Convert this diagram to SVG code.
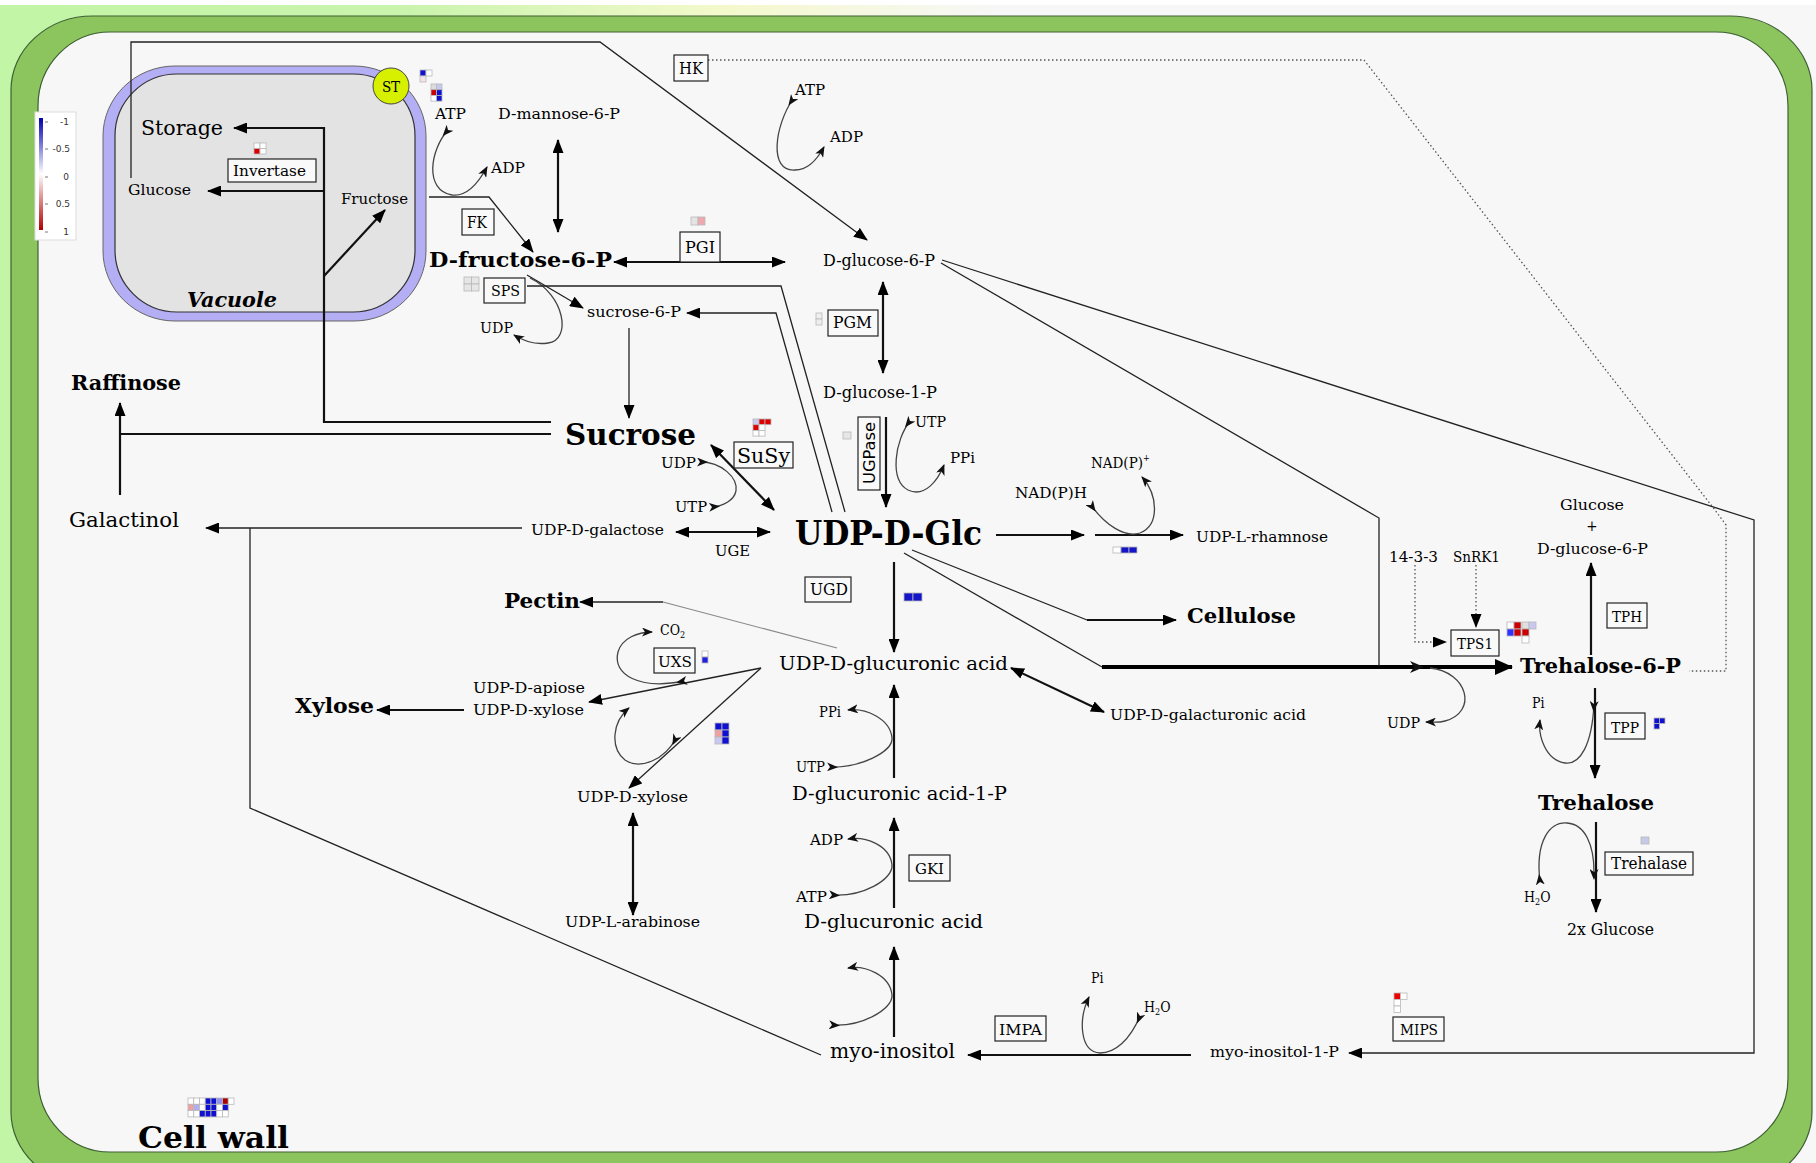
<svg xmlns="http://www.w3.org/2000/svg" width="1816" height="1163" viewBox="0 0 1816 1163">
<defs>
<style>
.s{font-family:"DejaVu Serif Condensed","DejaVu Serif",serif;fill:#000}
.b{font-weight:bold}
.ln{fill:none;stroke:#222;stroke-width:1.3}
.lw{fill:none;stroke:#111;stroke-width:2.2}
.cv{fill:none;stroke:#444;stroke-width:1.3}
.dt{fill:none;stroke:#555;stroke-width:1.3;stroke-dasharray:1.5 2.5}
.bx{fill:#f9f9f9;stroke:#222;stroke-width:1.2}
.hm rect{stroke:#b8b8b8;stroke-width:0.8}
.lg{font-family:"DejaVu Sans",sans-serif;font-size:9px;fill:#333;text-anchor:end}
</style>
<linearGradient id="bg" x1="0" x2="1" y1="0" y2="0">
<stop offset="0" stop-color="#c2f5a6"/><stop offset="0.22" stop-color="#c9f4ac"/><stop offset="0.4" stop-color="#f4f9cc"/><stop offset="0.55" stop-color="#f7f7f7"/>
</linearGradient>
<linearGradient id="lgd" x1="0" x2="0" y1="0" y2="1">
<stop offset="0" stop-color="#0000b0"/><stop offset="0.5" stop-color="#ffffff"/><stop offset="1" stop-color="#b00000"/>
</linearGradient>
<marker id="a" viewBox="0 0 14 11" refX="13" refY="5.5" markerWidth="14" markerHeight="11" markerUnits="userSpaceOnUse" orient="auto-start-reverse"><path d="M0,0 L14,5.5 L0,11 z" fill="#000"/></marker>
<marker id="ab" viewBox="0 0 18 16" refX="17" refY="8" markerWidth="18" markerHeight="16" markerUnits="userSpaceOnUse" orient="auto"><path d="M0,0 L18,8 L0,16 z" fill="#000"/></marker>
<marker id="ac" viewBox="0 0 11 9" refX="10" refY="4.5" markerWidth="11" markerHeight="9" markerUnits="userSpaceOnUse" orient="auto"><path d="M0,0 L11,4.5 L0,9 L3,4.5 z" fill="#111"/></marker>
<marker id="ch" viewBox="0 0 11 9" refX="3" refY="4.5" markerWidth="11" markerHeight="9" markerUnits="userSpaceOnUse" orient="auto"><path d="M0,0 L11,4.5 L0,9 L3,4.5 z" fill="#111"/></marker>
</defs>

<rect x="0" y="0" width="1816" height="1163" fill="#ffffff"/>
<rect x="0" y="5" width="1816" height="1158" fill="url(#bg)"/>

<g id="cellwall">
<rect x="11" y="16" width="1801" height="1170" rx="82" ry="74" fill="#8cc55e" stroke="#3f5f35" stroke-width="1.2"/>
<rect x="38" y="32" width="1750" height="1120" rx="72" ry="74" fill="#f7f7f7" stroke="#3f5f35" stroke-width="1.2"/>
</g>

<g id="legend">
<rect x="35" y="112" width="41" height="128" fill="#fff" stroke="#ddd" stroke-width="1"/>
<rect x="39" y="118" width="4" height="112" fill="url(#lgd)"/>
<path d="M45,122 h3 M45,149 h3 M45,177 h3 M45,204 h3 M45,232 h3" stroke="#555" stroke-width="0.8"/>
<text class="lg" x="69" y="125">-1</text>
<text class="lg" x="70" y="152">-0.5</text>
<text class="lg" x="69" y="180">0</text>
<text class="lg" x="70" y="207">0.5</text>
<text class="lg" x="69" y="235">1</text>
</g>

<g id="vacuole">
<rect x="103" y="66" width="323" height="255" rx="72" ry="70" fill="#b4aef5" stroke="#666" stroke-width="1"/>
<rect x="115" y="74" width="300" height="238" rx="62" ry="62" fill="#e3e3e3" stroke="#333" stroke-width="1.2"/>
<text class="s b" x="187" y="307" font-size="20" font-style="italic" textLength="90" lengthAdjust="spacingAndGlyphs">Vacuole</text>
</g>
<g id="n-st">
<circle cx="391" cy="86" r="18" fill="#d6f000" stroke="#444" stroke-width="1"/>
<text class="s" x="391" y="92" font-size="15" text-anchor="middle">ST</text>
</g>

<g id="connectors">
<path class="ln" d="M131,178 V42 H600 L867,240" marker-end="url(#a)"/>
<path class="lw" d="M551,422 H324 V128 H234" marker-end="url(#a)"/>
<path class="lw" d="M324,191 H208" marker-end="url(#a)"/>
<path class="lw" d="M324,276 L385,210" marker-end="url(#a)"/>
<path class="lw" d="M551,434 H120"/>
<path class="lw" d="M120,495 V403" marker-end="url(#a)"/>
<path class="ln" d="M429,197 H489 L533,252" marker-end="url(#a)"/>
<path class="cv" d="M448,130 C430,150 424,190 452,195 C468,197 480,180 487,167" marker-start="url(#ch)" marker-end="url(#ac)"/>
<path class="lw" d="M558,140 V232" marker-start="url(#a)" marker-end="url(#a)"/>
<path class="lw" d="M614,262 H785" marker-start="url(#a)" marker-end="url(#a)"/>
<path class="cv" d="M793,99 C775,125 768,172 795,170 C808,170 818,158 824,147" marker-start="url(#ch)" marker-end="url(#ac)"/>
<path class="lw" d="M883,282 V373" marker-start="url(#a)" marker-end="url(#a)"/>
<path class="ln" d="M527,275 L583,308" marker-end="url(#a)"/>
<path class="cv" d="M530,278 C565,295 572,340 548,343 C535,345 522,340 514,335" marker-end="url(#ac)"/>
<path class="ln" d="M527,286 H781 L845,512"/>
<path class="ln" d="M832,512 L776,313 H687" marker-end="url(#a)"/>
<path class="ln" d="M629,328 V418" marker-end="url(#a)"/>
<path class="lw" d="M711,445 L774,510" marker-start="url(#a)" marker-end="url(#a)"/>
<path class="cv" d="M700,462 C722,462 738,478 736,491" marker-start="url(#ch)"/>
<path class="cv" d="M712,507 C724,506 734,500 736,491" marker-start="url(#ch)"/>
<path class="lw" d="M676,532 H770" marker-start="url(#a)" marker-end="url(#a)"/>
<path class="ln" d="M522,528 H206" marker-end="url(#a)"/>
<path class="ln" d="M250,528 V808 L821,1055"/>
<path class="lw" d="M886,417 V507" marker-end="url(#a)"/>
<path class="cv" d="M910,421 C895,440 889,480 908,490 C925,498 938,480 944,465" marker-start="url(#ch)" marker-end="url(#ac)"/>
<path class="lw" d="M996,535 H1084" marker-end="url(#a)"/>
<path class="lw" d="M1095,535 H1183" marker-end="url(#a)"/>
<path class="cv" d="M1091,505 C1105,525 1125,538 1140,533 C1160,525 1158,495 1142,477" marker-start="url(#ch)" marker-end="url(#ac)"/>
<path class="ln" d="M912,550 L1087,620"/>
<path class="lw" d="M1087,620 H1176" marker-end="url(#a)"/>
<path class="ln" d="M904,553 L1102,667"/>
<path fill="none" stroke="#000" stroke-width="4" d="M1102,667 H1512" marker-end="url(#ab)"/>
<path class="ln" d="M941,263 L1379,518 V666"/>
<path class="ln" d="M942,260 L1754,520 V1053 H1349" marker-end="url(#a)"/>
<path class="cv" d="M1430,668 C1468,672 1478,712 1445,721 C1438,723 1432,722 1426,722" marker-end="url(#ac)"/>
<path d="M1410,661 L1424,667 L1410,673 L1414,667 z" fill="#111"/>
<path class="dt" d="M1415,565 V642 H1446" marker-end="url(#a)"/>
<path class="dt" d="M1476,565 V627" marker-end="url(#a)"/>
<path class="dt" stroke="#888" d="M708,60 H1364 L1715,510 L1726,525 V671 H1689"/>
<path class="lw" d="M1591,655 V563" marker-end="url(#a)"/>
<path class="lw" d="M1595,688 V778" marker-end="url(#a)"/>
<path class="cv" d="M1594,704 C1592,745 1580,765 1565,763 C1545,760 1538,735 1540,720" marker-start="url(#ch)" marker-end="url(#ac)"/>
<path class="lw" d="M1596,822 V912" marker-end="url(#a)"/>
<path class="cv" d="M1540,882 C1535,840 1550,822 1567,823 C1585,824 1594,845 1594,872" marker-start="url(#ch)" marker-end="url(#ch)"/>
<path class="lw" d="M1191,1055 H968" marker-end="url(#a)"/>
<path class="cv" d="M1140,1016 C1130,1040 1115,1053 1100,1053 C1080,1052 1078,1020 1089,997" marker-start="url(#ch)" marker-end="url(#ac)"/>
<path class="lw" d="M894,1037 V947" marker-end="url(#a)"/>
<path class="cv" d="M832,1025 C860,1027 893,1010 892,995 C890,975 865,965 848,968" marker-start="url(#ch)" marker-end="url(#ac)"/>
<path class="lw" d="M894,908 V818" marker-end="url(#a)"/>
<path class="cv" d="M832,895 C862,897 893,880 892,865 C890,845 865,836 848,839" marker-start="url(#ch)" marker-end="url(#ac)"/>
<path class="lw" d="M894,778 V685" marker-end="url(#a)"/>
<path class="cv" d="M830,767 C860,768 893,752 892,738 C890,718 865,708 848,710" marker-start="url(#ch)" marker-end="url(#ac)"/>
<path class="lw" d="M894,562 V652" marker-end="url(#a)"/>
<path class="lw" d="M1011,668 L1104,712" marker-start="url(#a)" marker-end="url(#a)"/>
<path fill="none" stroke="#888" stroke-width="1.1" d="M837,648 L663,602"/>
<path class="ln" stroke-width="1.6" d="M663,602 H580" marker-end="url(#a)"/>
<path class="ln" stroke-width="1.5" d="M761,668 L589,702" marker-end="url(#a)"/>
<path class="ln" stroke-width="1.5" d="M761,668 L629,788" marker-end="url(#a)"/>
<path class="cv" d="M684,681 C640,690 612,675 618,652 C622,638 638,632 652,632" marker-start="url(#ch)" marker-end="url(#ac)"/>
<path class="cv" d="M676,738 C665,760 640,770 625,760 C610,748 612,722 629,708" marker-start="url(#ch)" marker-end="url(#ac)"/>
<path class="lw" d="M464,710 H377" marker-end="url(#a)"/>
<path class="lw" d="M633,813 V915" marker-start="url(#a)" marker-end="url(#a)"/>
</g>

<g id="n-storage"><text class="s" x="141" y="135" font-size="21" textLength="82" lengthAdjust="spacingAndGlyphs">Storage</text></g>
<g id="n-glucose-vac"><text class="s" x="128" y="195" font-size="15" textLength="63" lengthAdjust="spacingAndGlyphs">Glucose</text></g>
<g id="e-invertase">
<rect class="bx" x="228" y="159" width="88" height="23"/>
<text class="s" x="233" y="176" font-size="15" textLength="73" lengthAdjust="spacingAndGlyphs">Invertase</text>
</g>
<g id="n-fructose"><text class="s" x="341" y="204" font-size="15" textLength="67" lengthAdjust="spacingAndGlyphs">Fructose</text></g>
<g id="n-atp1"><text class="s" x="435" y="119" font-size="15" textLength="31" lengthAdjust="spacingAndGlyphs">ATP</text></g>
<g id="n-mannose"><text class="s" x="498" y="119" font-size="15" textLength="122" lengthAdjust="spacingAndGlyphs">D-mannose-6-P</text></g>
<g id="n-adp1"><text class="s" x="491" y="173" font-size="15" textLength="34" lengthAdjust="spacingAndGlyphs">ADP</text></g>
<g id="e-fk"><rect class="bx" x="462" y="209" width="32" height="26"/><text class="s" x="467" y="228" font-size="16" textLength="20" lengthAdjust="spacingAndGlyphs">FK</text></g>
<g id="n-fru6p"><text class="s b" x="429" y="267" font-size="21" textLength="183" lengthAdjust="spacingAndGlyphs">D-fructose-6-P</text></g>
<g id="e-sps"><rect class="bx" x="484" y="278" width="41" height="25"/><text class="s" x="491" y="296" font-size="14" textLength="29" lengthAdjust="spacingAndGlyphs">SPS</text></g>
<g id="n-suc6p"><text class="s" x="587" y="317" font-size="15" textLength="94" lengthAdjust="spacingAndGlyphs">sucrose-6-P</text></g>
<g id="n-udp1"><text class="s" x="480" y="333" font-size="15" textLength="33" lengthAdjust="spacingAndGlyphs">UDP</text></g>
<g id="e-pgi"><rect class="bx" x="680" y="232" width="40" height="30"/><text class="s" x="685" y="253" font-size="16" textLength="30" lengthAdjust="spacingAndGlyphs">PGI</text></g>
<g id="n-glc6p"><text class="s" x="823" y="266" font-size="16" textLength="112" lengthAdjust="spacingAndGlyphs">D-glucose-6-P</text></g>
<g id="e-hk"><rect class="bx" x="674" y="55" width="34" height="26"/><text class="s" x="679" y="74" font-size="16" textLength="24" lengthAdjust="spacingAndGlyphs">HK</text></g>
<g id="n-atp2"><text class="s" x="795" y="95" font-size="15" textLength="30" lengthAdjust="spacingAndGlyphs">ATP</text></g>
<g id="n-adp2"><text class="s" x="830" y="142" font-size="15" textLength="33" lengthAdjust="spacingAndGlyphs">ADP</text></g>
<g id="e-pgm"><rect class="bx" x="828" y="310" width="50" height="26"/><text class="s" x="833" y="328" font-size="16" textLength="39" lengthAdjust="spacingAndGlyphs">PGM</text></g>
<g id="n-glc1p"><text class="s" x="823" y="398" font-size="16" textLength="114" lengthAdjust="spacingAndGlyphs">D-glucose-1-P</text></g>
<g id="n-raffinose"><text class="s b" x="71" y="390" font-size="20" textLength="110" lengthAdjust="spacingAndGlyphs">Raffinose</text></g>
<g id="n-sucrose"><text class="s b" x="565" y="445" font-size="30" textLength="131" lengthAdjust="spacingAndGlyphs">Sucrose</text></g>
<g id="e-susy"><rect class="bx" x="734" y="442" width="59" height="26"/><text class="s" x="737" y="463" font-size="20" textLength="53" lengthAdjust="spacingAndGlyphs">SuSy</text></g>
<g id="n-udp2"><text class="s" x="661" y="468" font-size="14" textLength="35" lengthAdjust="spacingAndGlyphs">UDP</text></g>
<g id="n-utp2"><text class="s" x="675" y="512" font-size="14" textLength="32" lengthAdjust="spacingAndGlyphs">UTP</text></g>
<g id="n-udpgal"><text class="s" x="531" y="535" font-size="15" textLength="133" lengthAdjust="spacingAndGlyphs">UDP-D-galactose</text></g>
<g id="e-uge"><text class="s" x="715" y="556" font-size="15" textLength="35" lengthAdjust="spacingAndGlyphs">UGE</text></g>
<g id="n-udpglc"><text class="s b" x="795" y="545" font-size="33" textLength="187" lengthAdjust="spacingAndGlyphs">UDP-D-Glc</text></g>
<g id="n-galactinol"><text class="s" x="69" y="527" font-size="20" textLength="110" lengthAdjust="spacingAndGlyphs">Galactinol</text></g>
<g id="e-ugpase"><rect class="bx" x="858" y="417" width="22" height="73"/><text x="0" y="0" font-family="DejaVu Sans,sans-serif" font-size="15" text-anchor="middle" transform="translate(875,453) rotate(-90)" textLength="62" lengthAdjust="spacingAndGlyphs">UGPase</text></g>
<g id="n-utp3"><text class="s" x="915" y="427" font-size="14" textLength="31" lengthAdjust="spacingAndGlyphs">UTP</text></g>
<g id="n-ppi3"><text class="s" x="950" y="463" font-size="14" textLength="25" lengthAdjust="spacingAndGlyphs">PPi</text></g>
<g id="n-nadph"><text class="s" x="1015" y="498" font-size="15" textLength="72" lengthAdjust="spacingAndGlyphs">NAD(P)H</text></g>
<g id="n-nadp"><text class="s" x="1091" y="468" font-size="15">NAD(P)<tspan font-size="9" dy="-7">+</tspan></text></g>
<g id="n-udprha"><text class="s" x="1196" y="542" font-size="15" textLength="132" lengthAdjust="spacingAndGlyphs">UDP-L-rhamnose</text></g>
<g id="n-cellulose"><text class="s b" x="1187" y="623" font-size="21" textLength="109" lengthAdjust="spacingAndGlyphs">Cellulose</text></g>
<g id="e-ugd"><rect class="bx" x="805" y="577" width="46" height="25"/><text class="s" x="810" y="595" font-size="16" textLength="38" lengthAdjust="spacingAndGlyphs">UGD</text></g>
<g id="n-pectin"><text class="s b" x="504" y="608" font-size="20" textLength="76" lengthAdjust="spacingAndGlyphs">Pectin</text></g>
<g id="n-co2"><text class="s" x="660" y="635" font-size="14">CO<tspan font-size="9" dy="3">2</tspan></text></g>
<g id="e-uxs"><rect class="bx" x="654" y="648" width="41" height="25"/><text class="s" x="658" y="667" font-size="15" textLength="34" lengthAdjust="spacingAndGlyphs">UXS</text></g>
<g id="n-udpglca"><text class="s" x="779" y="670" font-size="19" textLength="229" lengthAdjust="spacingAndGlyphs">UDP-D-glucuronic acid</text></g>
<g id="n-udpgala"><text class="s" x="1110" y="720" font-size="15" textLength="196" lengthAdjust="spacingAndGlyphs">UDP-D-galacturonic acid</text></g>
<g id="n-udpapi"><text class="s" x="473" y="693" font-size="15" textLength="112" lengthAdjust="spacingAndGlyphs">UDP-D-apiose</text><text class="s" x="473" y="715" font-size="15" textLength="111" lengthAdjust="spacingAndGlyphs">UDP-D-xylose</text></g>
<g id="n-xylose"><text class="s b" x="295" y="713" font-size="20" textLength="79" lengthAdjust="spacingAndGlyphs">Xylose</text></g>
<g id="n-ppi4"><text class="s" x="819" y="717" font-size="14" textLength="22" lengthAdjust="spacingAndGlyphs">PPi</text></g>
<g id="n-utp4"><text class="s" x="796" y="772" font-size="14" textLength="29" lengthAdjust="spacingAndGlyphs">UTP</text></g>
<g id="n-glca1p"><text class="s" x="792" y="800" font-size="19" textLength="215" lengthAdjust="spacingAndGlyphs">D-glucuronic acid-1-P</text></g>
<g id="n-udpxyl"><text class="s" x="577" y="802" font-size="15" textLength="111" lengthAdjust="spacingAndGlyphs">UDP-D-xylose</text></g>
<g id="n-udpara"><text class="s" x="565" y="927" font-size="15" textLength="135" lengthAdjust="spacingAndGlyphs">UDP-L-arabinose</text></g>
<g id="n-adp5"><text class="s" x="810" y="845" font-size="14" textLength="33" lengthAdjust="spacingAndGlyphs">ADP</text></g>
<g id="n-atp5"><text class="s" x="796" y="902" font-size="14" textLength="31" lengthAdjust="spacingAndGlyphs">ATP</text></g>
<g id="e-gki"><rect class="bx" x="909" y="855" width="41" height="26"/><text class="s" x="915" y="874" font-size="15" textLength="29" lengthAdjust="spacingAndGlyphs">GKI</text></g>
<g id="n-glca"><text class="s" x="804" y="928" font-size="19" textLength="179" lengthAdjust="spacingAndGlyphs">D-glucuronic acid</text></g>
<g id="n-myoino"><text class="s" x="830" y="1058" font-size="20" textLength="125" lengthAdjust="spacingAndGlyphs">myo-inositol</text></g>
<g id="e-impa"><rect class="bx" x="995" y="1016" width="51" height="25"/><text class="s" x="999" y="1035" font-size="15" textLength="43" lengthAdjust="spacingAndGlyphs">IMPA</text></g>
<g id="n-pi6"><text class="s" x="1091" y="983" font-size="14">Pi</text></g>
<g id="n-h2o6"><text class="s" x="1144" y="1012" font-size="14">H<tspan font-size="9" dy="3">2</tspan><tspan dy="-3">O</tspan></text></g>
<g id="n-myoino1p"><text class="s" x="1210" y="1057" font-size="15" textLength="129" lengthAdjust="spacingAndGlyphs">myo-inositol-1-P</text></g>
<g id="e-mips"><rect class="bx" x="1393" y="1017" width="51" height="24"/><text class="s" x="1400" y="1035" font-size="15" textLength="38" lengthAdjust="spacingAndGlyphs">MIPS</text></g>
<g id="n-cellwall"><text class="s b" x="138" y="1148" font-size="30" textLength="151" lengthAdjust="spacingAndGlyphs">Cell wall</text></g>
<g id="n-1433"><text class="s" x="1389" y="562" font-size="15" textLength="49" lengthAdjust="spacingAndGlyphs">14-3-3</text></g>
<g id="n-snrk1"><text class="s" x="1453" y="562" font-size="15" textLength="47" lengthAdjust="spacingAndGlyphs">SnRK1</text></g>
<g id="e-tps1"><rect class="bx" x="1451" y="630" width="48" height="26"/><text class="s" x="1457" y="649" font-size="15" textLength="36" lengthAdjust="spacingAndGlyphs">TPS1</text></g>
<g id="n-glcglc6p">
<text class="s" x="1560" y="510" font-size="15" textLength="64" lengthAdjust="spacingAndGlyphs">Glucose</text>
<text class="s" x="1592" y="531" font-size="15" text-anchor="middle">+</text>
<text class="s" x="1537" y="554" font-size="15" textLength="111" lengthAdjust="spacingAndGlyphs">D-glucose-6-P</text>
</g>
<g id="e-tph"><rect class="bx" x="1607" y="603" width="40" height="25"/><text class="s" x="1612" y="622" font-size="15" textLength="30" lengthAdjust="spacingAndGlyphs">TPH</text></g>
<g id="n-tre6p"><text class="s b" x="1520" y="673" font-size="21" textLength="161" lengthAdjust="spacingAndGlyphs">Trehalose-6-P</text></g>
<g id="n-udp7"><text class="s" x="1387" y="728" font-size="15" textLength="33" lengthAdjust="spacingAndGlyphs">UDP</text></g>
<g id="n-pi7"><text class="s" x="1532" y="708" font-size="14">Pi</text></g>
<g id="e-tpp"><rect class="bx" x="1605" y="713" width="40" height="26"/><text class="s" x="1611" y="733" font-size="15" textLength="28" lengthAdjust="spacingAndGlyphs">TPP</text></g>
<g id="n-trehalose"><text class="s b" x="1538" y="810" font-size="21" textLength="116" lengthAdjust="spacingAndGlyphs">Trehalose</text></g>
<g id="e-trehalase"><rect class="bx" x="1605" y="852" width="88" height="23"/><text class="s" x="1611" y="869" font-size="16" textLength="76" lengthAdjust="spacingAndGlyphs">Trehalase</text></g>
<g id="n-h2o8"><text class="s" x="1524" y="902" font-size="14">H<tspan font-size="9" dy="3">2</tspan><tspan dy="-3">O</tspan></text></g>
<g id="n-2xglc"><text class="s" x="1567" y="935" font-size="16" textLength="87" lengthAdjust="spacingAndGlyphs">2x Glucose</text></g>

<g id="heatmaps" class="hm">
<rect x="254" y="143" width="6" height="5.5" fill="#fff"/><rect x="260" y="143" width="6" height="5.5" fill="#fff"/><rect x="254" y="148.5" width="6" height="5.5" fill="#d00"/><rect x="260" y="148.5" width="6" height="5.5" fill="#fff"/>
<rect x="420" y="70" width="6" height="6" fill="#1010d0"/><rect x="426" y="70" width="6" height="6" fill="#fff"/><rect x="420" y="76" width="6" height="6" fill="#f2e2ea"/>
<rect x="431" y="84" width="5.5" height="5.7" fill="#ddd"/><rect x="436.5" y="84" width="5.5" height="5.7" fill="#c8c8f0"/><rect x="431" y="89.7" width="5.5" height="5.7" fill="#c00"/><rect x="436.5" y="89.7" width="5.5" height="5.7" fill="#1010d0"/><rect x="431" y="95.4" width="5.5" height="5.7" fill="#fff"/><rect x="436.5" y="95.4" width="5.5" height="5.7" fill="#1010d0"/>
<rect x="691" y="217" width="7" height="8" fill="#e4e4e4"/><rect x="698" y="217" width="7" height="8" fill="#f0a8b0"/>
<rect x="464" y="277" width="7.5" height="7" fill="#e6e6e6"/><rect x="471.5" y="277" width="7.5" height="7" fill="#e6e6e6"/><rect x="464" y="284" width="7.5" height="7" fill="#e6e6e6"/><rect x="471.5" y="284" width="7.5" height="7" fill="#e6e6e6"/>
<rect x="816" y="313" width="6" height="6" fill="#eee"/><rect x="816" y="319" width="6" height="6" fill="#eee"/>
<rect x="753" y="419" width="6" height="5.7" fill="#c8c8f0"/><rect x="759" y="419" width="6" height="5.7" fill="#d00"/><rect x="765" y="419" width="6" height="5.7" fill="#d00"/><rect x="753" y="424.7" width="6" height="5.7" fill="#d00"/><rect x="759" y="424.7" width="6" height="5.7" fill="#fff"/><rect x="753" y="430.4" width="6" height="5.7" fill="#fff"/><rect x="759" y="430.4" width="6" height="5.7" fill="#fff"/>
<rect x="843" y="432" width="8" height="7" fill="#e6e6e6"/>
<rect x="1113" y="547" width="8" height="6" fill="#fff"/><rect x="1121" y="547" width="8" height="6" fill="#1515c8"/><rect x="1129" y="547" width="8" height="6" fill="#1515c8"/>
<rect x="904" y="593" width="9" height="8" fill="#1515c8"/><rect x="913" y="593" width="9" height="8" fill="#1515c8"/>
<rect x="702" y="651" width="6" height="6" fill="#fff"/><rect x="702" y="657" width="6" height="6" fill="#2020e0"/>
<rect x="715" y="723" width="7" height="7" fill="#1010d0"/><rect x="722" y="723" width="7" height="7" fill="#1010d0"/><rect x="715" y="730" width="7" height="7" fill="#f0a0a0"/><rect x="722" y="730" width="7" height="7" fill="#1010d0"/><rect x="715" y="737" width="7" height="7" fill="#c8c8f0"/><rect x="722" y="737" width="7" height="7" fill="#1010d0"/>
<rect x="1507" y="622" width="7" height="7" fill="#fff"/><rect x="1514" y="622" width="7" height="7" fill="#c00"/><rect x="1507" y="629" width="7" height="7" fill="#3030ff"/><rect x="1514" y="629" width="7" height="7" fill="#c00"/>
<rect x="1522" y="622" width="7" height="7" fill="#e0e0e0"/><rect x="1529" y="622" width="7" height="7" fill="#c8c8f0"/><rect x="1522" y="629" width="7" height="7" fill="#c00"/><rect x="1522" y="636" width="7" height="7" fill="#fff"/>
<rect x="1654" y="718" width="5.5" height="5.5" fill="#1010d0"/><rect x="1659.5" y="718" width="5.5" height="5.5" fill="#1010d0"/><rect x="1654" y="723.5" width="5.5" height="5.5" fill="#1010d0"/>
<rect x="1641" y="837" width="8" height="7" fill="#c8c8e8"/>
<rect x="1394" y="993" width="6.5" height="6.5" fill="#e00"/><rect x="1400.5" y="993" width="6.5" height="6.5" fill="#fff"/><rect x="1394" y="999.5" width="6.5" height="6.5" fill="#fff"/><rect x="1394" y="1006" width="6.5" height="6.5" fill="#fff"/>
<rect x="188" y="1098" width="5.75" height="6.3" fill="#fff"/><rect x="193.75" y="1098" width="5.75" height="6.3" fill="#fff"/><rect x="199.5" y="1098" width="5.75" height="6.3" fill="#fff"/><rect x="205.25" y="1098" width="5.75" height="6.3" fill="#1010d0"/><rect x="211" y="1098" width="5.75" height="6.3" fill="#1010d0"/><rect x="216.75" y="1098" width="5.75" height="6.3" fill="#9090f0"/><rect x="222.5" y="1098" width="5.75" height="6.3" fill="#a00"/><rect x="228.25" y="1098" width="5.75" height="6.3" fill="#fff"/>
<rect x="188" y="1104.3" width="5.75" height="6.3" fill="#f0a0a0"/><rect x="193.75" y="1104.3" width="5.75" height="6.3" fill="#b0b0f0"/><rect x="199.5" y="1104.3" width="5.75" height="6.3" fill="#fff"/><rect x="205.25" y="1104.3" width="5.75" height="6.3" fill="#1010d0"/><rect x="211" y="1104.3" width="5.75" height="6.3" fill="#1010d0"/><rect x="216.75" y="1104.3" width="5.75" height="6.3" fill="#fff"/><rect x="222.5" y="1104.3" width="5.75" height="6.3" fill="#1010d0"/>
<rect x="188" y="1110.6" width="5.75" height="6.3" fill="#fff"/><rect x="193.75" y="1110.6" width="5.75" height="6.3" fill="#fff"/><rect x="199.5" y="1110.6" width="5.75" height="6.3" fill="#1010d0"/><rect x="205.25" y="1110.6" width="5.75" height="6.3" fill="#1010d0"/><rect x="211" y="1110.6" width="5.75" height="6.3" fill="#1010d0"/><rect x="216.75" y="1110.6" width="5.75" height="6.3" fill="#fff"/><rect x="222.5" y="1110.6" width="5.75" height="6.3" fill="#fff"/>
</g>
</svg>
